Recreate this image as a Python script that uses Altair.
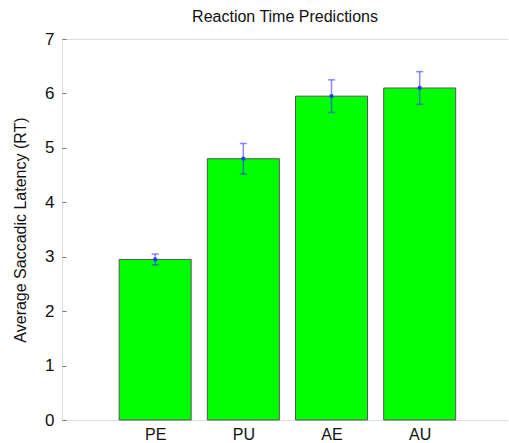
import altair as alt
import pandas as pd

# Conditions, their bar positions, mean latencies and error half-widths
categories = ["PE", "PU", "AE", "AU"]
positions = [1, 2, 3, 4]
means = [2.95, 4.8, 5.95, 6.1]
errors = [0.1, 0.28, 0.3, 0.3]

df = pd.DataFrame({
    "cond": categories,
    "pos": positions,
    "mean": means,
    "err": errors,
})
df["lo"] = df["mean"] - df["err"]
df["hi"] = df["mean"] + df["err"]

label_expr = "datum.value == 1 ? 'PE' : datum.value == 2 ? 'PU' : datum.value == 3 ? 'AE' : datum.value == 4 ? 'AU' : ''"

x_scale = alt.Scale(domain=[0, 4.945], nice=False, zero=False)
y_scale = alt.Scale(domain=[0, 7], nice=False)

x_enc = alt.X(
    "pos:Q",
    scale=x_scale,
    axis=alt.Axis(
        values=positions,
        labelExpr=label_expr,
        title=None,
        ticks=False,
        domain=False,
        grid=False,
        labelFontSize=16,
        labelPadding=6,
        labelColor="#111111",
        labelFont="Liberation Sans",
    ),
)

y_enc = alt.Y(
    "mean:Q",
    scale=y_scale,
    axis=alt.Axis(
        values=[0, 1, 2, 3, 4, 5, 6, 7],
        format="d",
        title="Average Saccadic Latency (RT)",
        titleFontSize=16,
        titleFontWeight="normal",
        titleFont="Liberation Sans",
        titleColor="#111111",
        titlePadding=16,
        labelFontSize=17,
        labelFont="Liberation Sans",
        labelColor="#111111",
        labelPadding=8,
        domain=False,
        grid=False,
        tickSize=4,
        tickColor="#777777",
        offset=-4,
    ),
)

bars = alt.Chart(df).mark_bar(
    size=72, color="#00ff00", stroke="#555555", strokeWidth=1
).encode(x=x_enc, y=y_enc)

err_lines = alt.Chart(df).mark_rule(color="#2a2aff", opacity=0.55, strokeWidth=1.5).encode(
    x="pos:Q",
    y="lo:Q",
    y2="hi:Q",
)

caps_hi = alt.Chart(df).mark_tick(
    orient="horizontal", size=7, thickness=1.5, color="#2a2aff", opacity=0.55
).encode(x="pos:Q", y="hi:Q")

caps_lo = alt.Chart(df).mark_tick(
    orient="horizontal", size=7, thickness=1.5, color="#2a2aff", opacity=0.55
).encode(x="pos:Q", y="lo:Q")

dots = alt.Chart(df).mark_point(
    filled=True, color="#1535ff", size=18, opacity=0.9
).encode(x="pos:Q", y="mean:Q")

chart = alt.layer(bars, err_lines, caps_hi, caps_lo, dots).properties(
    width=446,
    height=381,
    padding={"left": 12, "top": 9, "right": 0, "bottom": 0},
    title=alt.TitleParams(
        "Reaction Time Predictions",
        fontSize=16,
        fontWeight="normal",
        font="Liberation Sans",
        color="#111111",
        anchor="middle",
        offset=5,
    ),
).configure_view(
    stroke="#888888", strokeWidth=1.2
).configure(background="white")

chart.save("out.html", embed_options={"renderer": "svg", "actions": False})
